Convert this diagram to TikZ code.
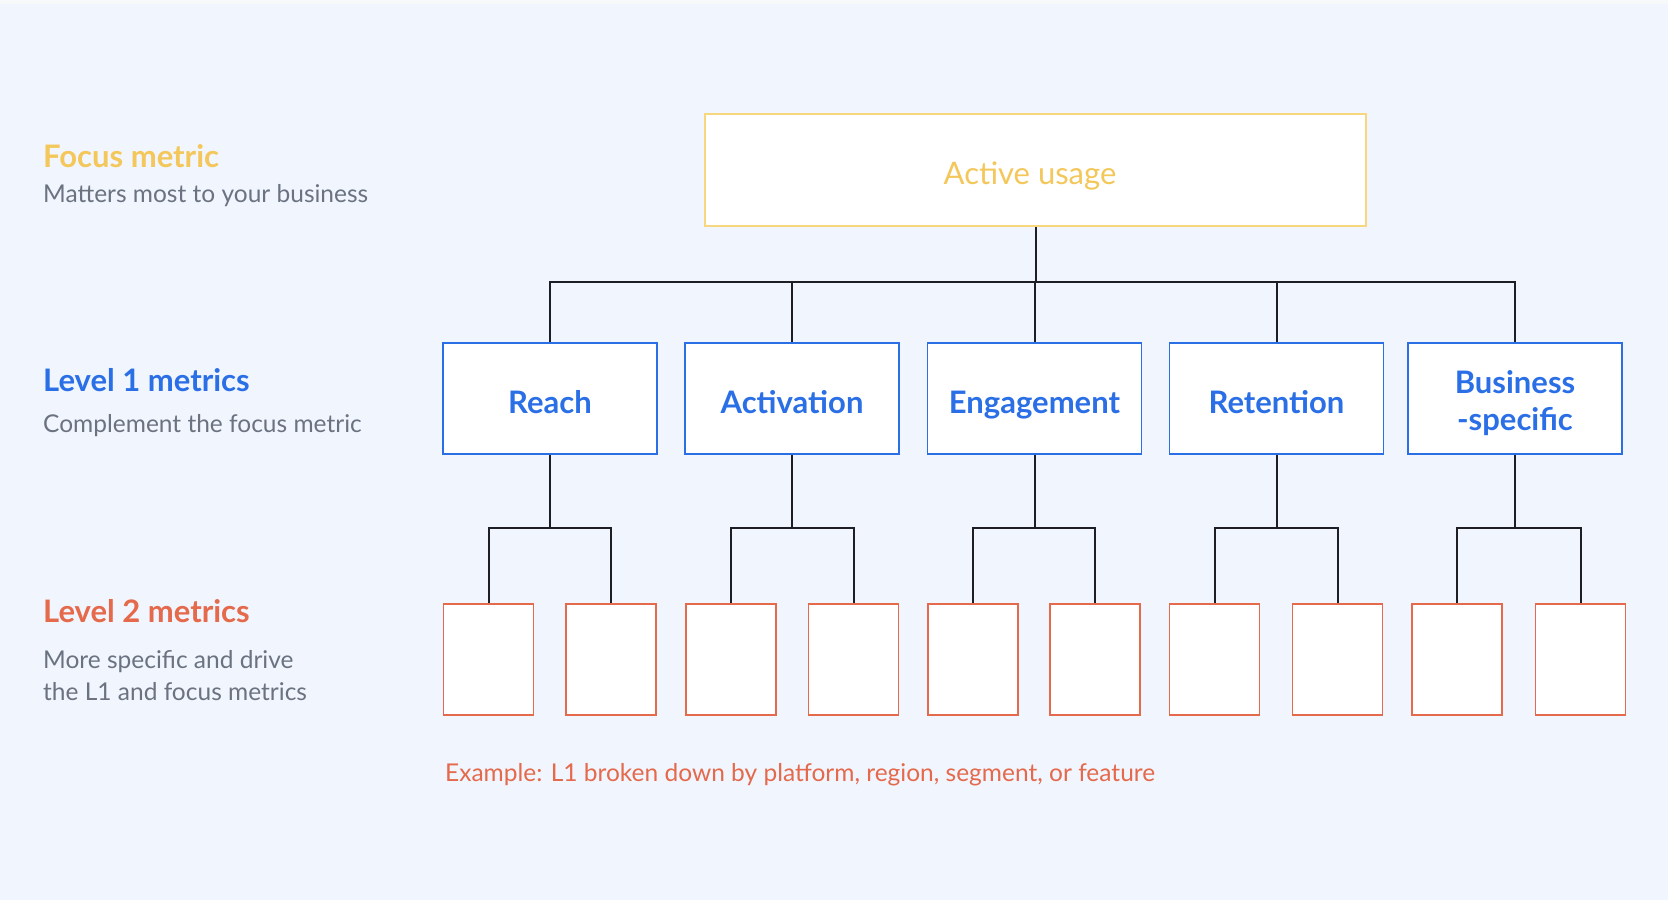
\documentclass[tikz,border=0pt]{standalone}
\usepackage{fontspec}
\setmainfont{Lato}
\definecolor{bg}{HTML}{F0F5FE}
\definecolor{topstrip}{HTML}{F7F8FA}
\definecolor{yel}{HTML}{F4C75A}
\definecolor{yelb}{HTML}{F7D67E}
\definecolor{blu}{HTML}{2A6FE6}
\definecolor{red}{HTML}{E5694B}
\definecolor{gry}{HTML}{6B7280}
\definecolor{ln}{HTML}{1E1F24}
\begin{document}
\begin{tikzpicture}[x=1pt,y=-1pt,
  heading/.style={anchor=base west,inner sep=0pt,font=\fontsize{31}{36}\selectfont\bfseries},
  subtext/.style={anchor=base west,inner sep=0pt,text=gry,font=\fontsize{24.5}{32}\selectfont},
  focusbox/.style={draw=yelb,line width=2pt,fill=white,minimum width=661pt,minimum height=112pt,text=yel,text height=28pt,text depth=0pt,font=\fontsize{31}{34}\selectfont},
  lonebox/.style={draw=blu,line width=1.8pt,fill=white,minimum width=214pt,minimum height=111pt,text=blu,text height=29pt,text depth=0pt,font=\fontsize{31}{37}\selectfont\bfseries},
  lonetext/.style={text=blu,align=center,inner sep=0pt,font=\fontsize{31}{37}\selectfont\bfseries},
  ltwobox/.style={draw=red,line width=1.8pt,fill=white,minimum width=90pt,minimum height=111pt},
  conn/.style={draw=ln,line width=2pt}]
\fill[bg] (0,0) rectangle (1668,900);
\fill[topstrip] (0,0) rectangle (1668,4);
\useasboundingbox (0,0) rectangle (1668,900);

% left legend
\node[heading,text=yel] (h0) at (43,167) {Focus metric};
\node[subtext] (s0) at (43,202) {Matters most to your business};
\node[heading,text=blu] (h1) at (43,391) {Level 1 metrics};
\node[subtext] (s1) at (43,432) {Complement the focus metric};
\node[heading,text=red] (h2) at (43,622) {Level 2 metrics};
\node[subtext] (s2a) at (43,668) {More specific and drive};
\node[subtext] (s2b) at (43,700) {the L1 and focus metrics};

% focus
\node[focusbox] (top) at (1035.5,170) {};
\node[text=yel,inner sep=0pt,anchor=base,font=\fontsize{31}{34}\selectfont] (toptxt) at (1030,184) {Active usage};

% level 1
\node[lonebox] (reach) at (550,398.5) {Reach};
\node[lonebox] (act) at (792,398.5) {Activation};
\node[lonebox] (eng) at (1034.5,398.5) {Engagement};
\node[lonebox] (ret) at (1276.5,398.5) {Retention};
\node[lonebox] (bus) at (1515,398.5) {};
\node[lonetext] (bustxt) at ([yshift=-5pt]bus.center) {Business\\-specific};

% level 2
\node[ltwobox] (a1) at (488.5,659.5) {};
\node[ltwobox] (a2) at (611,659.5) {};
\node[ltwobox] (b1) at (731,659.5) {};
\node[ltwobox] (b2) at (853.5,659.5) {};
\node[ltwobox] (c1) at (973,659.5) {};
\node[ltwobox] (c2) at (1095,659.5) {};
\node[ltwobox] (d1) at (1214.5,659.5) {};
\node[ltwobox] (d2) at (1337.5,659.5) {};
\node[ltwobox] (e1) at (1457,659.5) {};
\node[ltwobox] (e2) at (1580.5,659.5) {};

% connectors top -> level 1
\coordinate (tj) at (top.south |- 0,282);
\draw[conn] (top.south) -- (tj);
\foreach \n in {reach,act,eng,ret,bus} \draw[conn] (tj) -| (\n.north);

% connectors level 1 -> level 2
\foreach \p/\l/\r in {reach/a1/a2,act/b1/b2,eng/c1/c2,ret/d1/d2,bus/e1/e2}{
  \coordinate (j\p) at (\p.south |- 0,528);
  \draw[conn] (\p.south) -- (j\p);
  \draw[conn] (j\p) -| (\l.north);
  \draw[conn] (j\p) -| (\r.north);
}

\node[anchor=base west,inner sep=0pt,text=red,font=\fontsize{24.5}{28}\selectfont] (ex) at (445,781) {Example: L1 broken down by platform, region, segment, or feature};
\end{tikzpicture}
\end{document}
